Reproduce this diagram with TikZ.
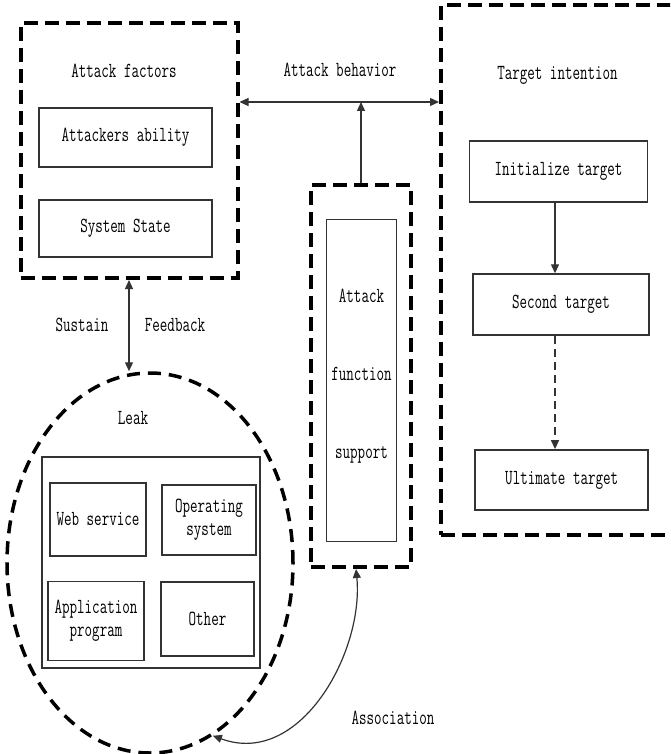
\documentclass[tikz,border=0pt]{standalone}
\usepackage{fontspec}
\newfontfamily\dfont[FakeStretch=0.68]{Latin Modern Mono}
\usetikzlibrary{arrows.meta,shapes.geometric}
\tikzset{mytri/.tip={Triangle[length=9pt,width=8pt]}}
\begin{document}
\begin{tikzpicture}[x=1pt,y=-1pt,
  txt/.style={font=\dfont\fontsize{21.5}{23}\selectfont, text=black, inner sep=0pt, align=center},
  thickdash/.style={draw=black, line width=4pt, dash pattern=on 14pt off 7pt, inner sep=0pt},
  sbox/.style={draw=black!80, line width=1.8pt, txt},
  conn/.style={line width=1.3pt, draw=black!80},
]
\useasboundingbox (0,0) rectangle (670,754);
\clip (0,0) rectangle (670,754);

% dashed containers
\node[thickdash, minimum width=217pt, minimum height=255pt] (fac) at (129,150.5) {};
\node[thickdash, minimum width=100pt, minimum height=382pt] (afs) at (361,376) {};
\node[thickdash, minimum width=249pt, minimum height=530pt] (tgt) at (565.5,270) {};
\node[ellipse, draw=black, line width=3.5pt, dash pattern=on 13pt off 8pt, minimum width=286pt, minimum height=380pt, inner sep=0pt] (leak) at (150,563) {};

% titles
\node[txt] (tfac) at (124,71) {Attack factors};
\node[txt] (tbeh) at (340,70) {Attack behavior};
\node[txt] (ttgt) at (557.5,75) {Target intention};
\node[txt] (tsus) at (82,325) {Sustain};
\node[txt] (tfed) at (175,325) {Feedback};
\node[txt] (tleak) at (133,418) {Leak};
\node[txt] (tass) at (393,718) {Association};

% attack factors
\node[sbox, minimum width=173pt, minimum height=59pt] (abil) at (125.5,137.5) {Attackers ability};
\node[sbox, minimum width=173pt, minimum height=57pt] (sys) at (125.5,228.5) {System State};

% attack function support
\node[draw=black!80, line width=1.5pt, minimum width=70pt, minimum height=322pt, inner sep=0pt] (afsin) at (361.5,380.5) {};
\node[txt, font=\dfont\fontsize{21.5}{78}\selectfont] (afstxt) at (361.5,376) {Attack\\function\\support};

% targets
\node[sbox, minimum width=178pt, minimum height=61pt] (init) at (558.5,171.3) {Initialize target};
\node[sbox, minimum width=176pt, minimum height=61pt] (sec) at (561,304.7) {Second target};
\node[sbox, minimum width=173pt, minimum height=60pt] (ult) at (561.7,480) {Ultimate target};

% leak contents
\node[draw=black!80, line width=1.8pt, minimum width=218pt, minimum height=211.6pt, inner sep=0pt] (lbox) at (150.85,562.5) {};
\node[sbox, minimum width=96pt, minimum height=73pt] (web) at (98,519.5) {Web service};
\node[sbox, minimum width=94pt, minimum height=70pt] (os) at (209,520) {Operating\\system};
\node[sbox, minimum width=96pt, minimum height=79pt] (app) at (96,621) {Application\\program};
\node[sbox, minimum width=93pt, minimum height=74pt] (oth) at (207.5,619) {Other};

% connectors
\coordinate (hb) at (361.5,102);
\draw[conn, mytri-mytri] (fac.east |- hb) -- (tgt.west |- hb);
\draw[conn, -mytri] (afs.north) -- (afs.north |- hb);
\draw[conn, mytri-mytri] (fac.south) -- (fac.south |- leak.north);
\draw[conn, -mytri] ([xshift=-3.5pt]init.south) -- ([xshift=-3.5pt]init.south |- sec.north);
\draw[conn, dash pattern=on 8pt off 5pt, -mytri] ([xshift=-6pt]sec.south) -- ([xshift=-6pt]sec.south |- ult.north);
\draw[conn, line width=1.2pt, mytri-mytri] (leak.-70.5) .. controls (300,768) and (364,652) .. ([xshift=-5pt]afs.south);
\end{tikzpicture}
\end{document}
